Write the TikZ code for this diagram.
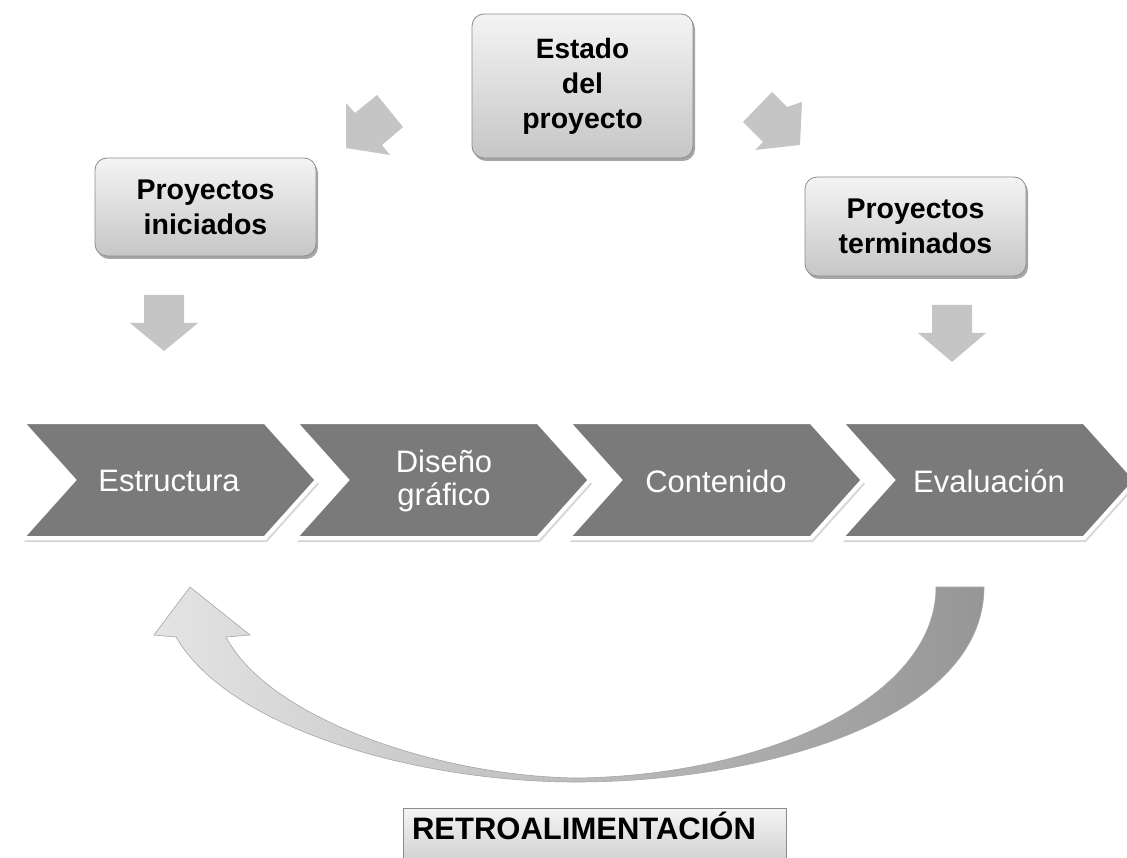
\documentclass[tikz,border=0pt]{standalone}
\usepackage{fontspec}
\setmainfont{Liberation Sans}
\usetikzlibrary{shadows}
\definecolor{chevgray}{RGB}{122,122,122}
\definecolor{arrowgray}{RGB}{197,197,197}
\definecolor{boxtop}{RGB}{244,244,244}
\definecolor{boxbot}{RGB}{198,198,198}
\definecolor{boxline}{RGB}{140,140,140}
\definecolor{arcleft}{RGB}{228,228,228}
\definecolor{arcright}{RGB}{150,150,150}
\tikzset{
  topbox/.style={draw=boxline, line width=0.8pt, rounded corners=12pt,
    top color=boxtop, bottom color=boxbot, inner sep=0pt, align=center,
    font=\fontsize{28.5}{35}\selectfont\bfseries,
    drop shadow={shadow xshift=2pt, shadow yshift=-3pt, opacity=0.35, fill=black}},
  blockarrow/.style={fill=arrowgray, draw=none},
  chevtext/.style={text=white, align=center, font=\fontsize{31}{33}\selectfont},
  chevshape/.pic={
    \fill[black!25, opacity=0.6] (2,4) -- (245,4) -- (297,62) -- (245,120) -- (2,120) -- (54,62) -- cycle;
    \draw[white, line width=4pt, fill=chevgray, line join=miter]
      (0,0) -- (243,0) -- (295,58) -- (243,116) -- (0,116) -- (52,58) -- cycle;
  },
}
\begin{document}
\begin{tikzpicture}[x=1pt, y=-1pt]
\useasboundingbox (0,0) rectangle (1127,858);
\clip (0,0) rectangle (1127,858);
\fill[white] (0,0) rectangle (1127,858);

% top boxes
\node[topbox, minimum width=221pt, minimum height=144pt] (estado) at (582.5,86)
  {\fontsize{28}{40}\selectfont Estado\\del\\proyecto};
\node[topbox, minimum width=221pt, minimum height=98pt] (iniciados) at (205.5,207)
  {Proyectos\\iniciados};
\node[topbox, minimum width=221pt, minimum height=99pt] (terminados) at (915.5,226.5)
  {Proyectos\\terminados};

% diagonal block arrows
\fill[blockarrow] (346,148) -- (346,103) -- (355,113) -- (377,95) -- (403,127) -- (382,145) -- (390,155) -- cycle;
\fill[blockarrow] (772,92) -- (787,107) -- (802,102) -- (800,145) -- (755,150) -- (763,142) -- (743,122) -- cycle;

% down block arrows
\fill[blockarrow] (144,295) -- (184,295) -- (184,323) -- (198,323) -- (164,351) -- (130,323) -- (144,323) -- cycle;
\fill[blockarrow] (932,305) -- (972,305) -- (972,333) -- (986,333) -- (952,362) -- (918,333) -- (932,333) -- cycle;

% chevrons
\pic at (22,422) {chevshape};
\pic at (295,422) {chevshape};
\pic at (568,422) {chevshape};
\pic at (841,422) {chevshape};
\node[chevtext] (estructura) at (169,481) {Estructura};
\node[chevtext] (diseno) at (444,481) {Diseño\\gráfico};
\node[chevtext] (contenido) at (716,481) {Contenido};
\node[chevtext] (evaluacion) at (989,481) {Evaluación};

% feedback arc
\path[left color=arcleft, right color=arcright, draw=black!35, line width=0.6pt]
  (984,587) .. controls (984,720) and (760,782) .. (576,782)
  .. controls (420,782) and (230,730) .. (176,637)
  -- (154,635) -- (190,587) -- (250,635) -- (226,637)
  .. controls (270,720) and (440,776) .. (576,778)
  .. controls (760,776) and (936,700) .. (936,587) -- cycle;

% retroalimentacion box
\node[draw=boxline, line width=0.8pt, top color=boxtop, bottom color=boxbot,
  minimum width=383pt, minimum height=70pt, inner sep=0pt] (retro) at (594.5,843) {};
\node[font=\fontsize{31}{33}\selectfont\bfseries, inner sep=0pt] (retrotext) at (584,826) {RETROALIMENTACIÓN};
\end{tikzpicture}
\end{document}
